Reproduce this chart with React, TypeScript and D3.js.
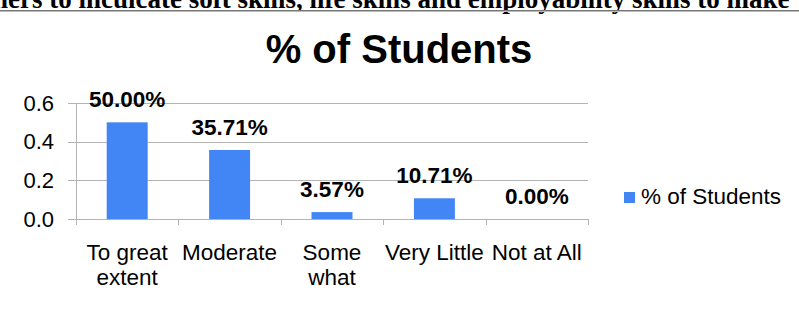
import { useEffect, useRef } from 'react'
import * as d3 from 'd3'

const categories = ['To great extent', 'Moderate', 'Some what', 'Very Little', 'Not at All']
const categoryLines = [['To great', 'extent'], ['Moderate'], ['Some', 'what'], ['Very Little'], ['Not at All']]
const values = [0.5, 0.3571, 0.0357, 0.1071, 0]
const valueLabels = ['50.00%', '35.71%', '3.57%', '10.71%', '0.00%']
const yTicks = [0, 0.2, 0.4, 0.6]
const seriesName = '% of Students'
const headerText = 'hers to inculcate soft skills, life skills and employability skills to make'

const BAR = '#4285f4'
const GRID = '#b3b3b3'
const FONT = 'Arial, "Liberation Sans", sans-serif'

export default function App() {
  const svgRef = useRef<SVGSVGElement>(null)

  useEffect(() => {
    if (!svgRef.current) return
    const svg = d3.select(svgRef.current)
    svg.selectAll('*').remove()

    const width = 799
    const height = 309
    svg.attr('width', width).attr('height', height)

    // clipped caption from the page above
    svg.append('text')
      .attr('x', -7).attr('y', 8)
      .attr('font-family', '"Liberation Serif", "Times New Roman", serif')
      .attr('font-weight', 'bold').attr('font-size', 27)
      .attr('fill', '#000')
      .text(headerText)
    svg.append('rect').attr('x', 0).attr('y', 10).attr('width', width).attr('height', 1).attr('fill', '#777')
    svg.append('rect').attr('x', 0).attr('y', 11).attr('width', width).attr('height', 1).attr('fill', '#bbb')

    const left = 76, right = 588, top = 103, bottom = 219

    const x = d3.scaleBand<string>().domain(categories).range([left, right]).padding(0)
    const y = d3.scaleLinear().domain([0, 0.6]).range([bottom, top])
    const bw = x.bandwidth()

    // title
    svg.append('text')
      .attr('x', 399).attr('y', 63)
      .attr('text-anchor', 'middle')
      .attr('font-family', FONT).attr('font-weight', 'bold').attr('font-size', 40)
      .text(seriesName)

    // gridlines + y ticks
    yTicks.forEach(t => {
      svg.append('line')
        .attr('x1', left - 8).attr('x2', right)
        .attr('y1', Math.round(y(t)) + 0.5).attr('y2', Math.round(y(t)) + 0.5)
        .attr('stroke', GRID).attr('stroke-width', 1)
      svg.append('text')
        .attr('x', 54).attr('y', y(t) + 7.5)
        .attr('text-anchor', 'end')
        .attr('font-family', FONT).attr('font-size', 22)
        .text(d3.format('.1f')(t))
    })

    // y axis line
    svg.append('line')
      .attr('x1', left + 0.5).attr('x2', left + 0.5)
      .attr('y1', top).attr('y2', bottom)
      .attr('stroke', GRID)

    // x ticks
    const tickPos = categories.map(c => x(c) as number).concat([right])
    tickPos.forEach(p => {
      svg.append('line')
        .attr('x1', Math.round(p) + 0.5).attr('x2', Math.round(p) + 0.5)
        .attr('y1', bottom).attr('y2', bottom + 6)
        .attr('stroke', GRID)
    })

    // bars
    categories.forEach((c, i) => {
      const bx = (x(c) as number) + bw * 0.3
      svg.append('rect')
        .attr('x', bx).attr('y', y(values[i]))
        .attr('width', bw * 0.4).attr('height', bottom - y(values[i]))
        .attr('fill', BAR)
      svg.append('text')
        .attr('x', (x(c) as number) + bw / 2).attr('y', y(values[i]) - 15)
        .attr('text-anchor', 'middle')
        .attr('font-family', FONT).attr('font-weight', 'bold').attr('font-size', 22.5)
        .text(valueLabels[i])
      categoryLines[i].forEach((line, j) => {
        svg.append('text')
          .attr('x', (x(c) as number) + bw / 2).attr('y', 260 + j * 25)
          .attr('text-anchor', 'middle')
          .attr('font-family', FONT).attr('font-size', 22.5)
          .text(line)
      })
    })

    // legend
    svg.append('rect').attr('x', 624).attr('y', 192).attr('width', 11).attr('height', 11).attr('fill', BAR)
    svg.append('text')
      .attr('x', 641).attr('y', 204)
      .attr('font-family', FONT).attr('font-size', 22.5)
      .text(seriesName)
  }, [])

  return <svg ref={svgRef} style={{ position: 'absolute', left: 0, top: 0 }} />
}
